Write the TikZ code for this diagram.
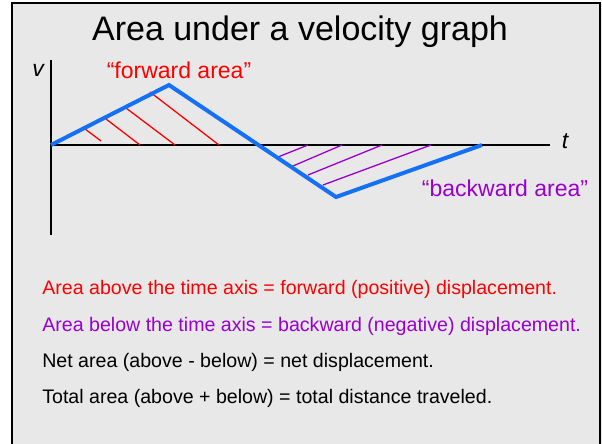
\documentclass[tikz,border=0pt]{standalone}
\usepackage{fontspec}
\setmainfont{Liberation Sans}
\usepackage{xcolor}
\usetikzlibrary{positioning}
\definecolor{fwdred}{RGB}{255,0,0}
\definecolor{bwdpurple}{RGB}{153,0,204}
\definecolor{graphblue}{RGB}{20,112,245}
\definecolor{slidegray}{RGB}{232,232,232}

\begin{document}
\begin{tikzpicture}[x=1pt,y=-1pt,semithick,
    axis/.style={draw=black,line width=1.6pt},
    curve/.style={draw=graphblue,line width=4pt,line join=miter},
    fwdhatch/.style={draw=fwdred,line width=1.3pt},
    bwdhatch/.style={draw=bwdpurple,line width=1.3pt},
    body/.style={anchor=west,inner sep=0pt,font=\fontsize{19.6}{23}\selectfont}]
      \useasboundingbox (0,0) rectangle (602,444);
      \fill[slidegray] (12,3) rectangle (602,444);
      \draw[line width=2.5pt] (12,444) -- (12,3) -- (600,3) -- (600,444);

      \node[inner sep=0pt,font=\fontsize{34}{40}\selectfont] (title) at (300,32) {Area under a velocity graph};

      % axes
      \coordinate (o) at (51,145);
      \coordinate (vtop) at (51,60);
      \coordinate (vbot) at (51,235);
      \coordinate (tend) at (550,145);
      \node[inner sep=0pt,font=\fontsize{23}{26}\selectfont\itshape] (vlab) at (38,70) {v};
      \node[inner sep=0pt,font=\fontsize{23}{26}\selectfont\itshape] (tlab) at (565,141) {t};
      \draw[axis] (vtop) -- (vbot);
      \draw[axis] (o) -- (tend);

      % hatching
      \foreach \xa/\ya/\xb/\yb in {85/129/101/141, 106/119/140/145, 126/108/175/145, 150/92/219/145}
        \draw[fwdhatch] (\xa,\ya) -- (\xb,\yb);
      \foreach \xa/\ya/\xb/\yb in {278/157/308/145, 293/166/342/145, 308/175/382/145, 323/185/431/145}
        \draw[bwdhatch] (\xa,\ya) -- (\xb,\yb);

      % velocity graph
      \coordinate (peak) at (169,85);
      \coordinate (low) at (336,197);
      \coordinate (stop) at (482,145);
      \draw[curve] (o) -- (peak) -- (low) -- (stop);

      \node[inner sep=0pt,text=fwdred,font=\fontsize{23}{26}\selectfont] (fwd) at (179,70) {“forward area”};
      \node[inner sep=0pt,text=bwdpurple,font=\fontsize{23}{26}\selectfont] (bwd) at (505,188) {“backward area”};

      % statements
      \node[body,text=fwdred] (above) at (42,289) {Area above the time axis = forward (positive) displacement.};
      \node[body,text=bwdpurple] (below) at (42,326) {Area below the time axis = backward (negative) displacement.};
      \node[body] (net) at (42,362) {Net area (above - below) = net displacement.};
      \node[body] (total) at (42,398) {Total area (above + below) = total distance traveled.};
    \end{tikzpicture}
\end{document}
